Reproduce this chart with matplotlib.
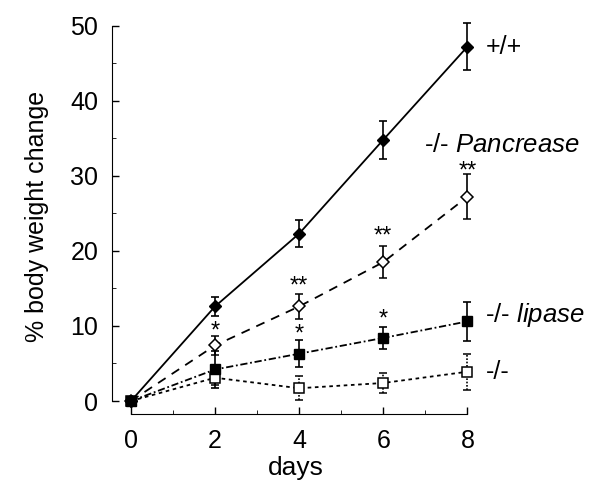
import matplotlib.pyplot as plt
from matplotlib.ticker import MultipleLocator

plt.rcParams['font.family'] = ['Liberation Sans', 'DejaVu Sans']
plt.rcParams['mathtext.fontset'] = 'custom'
plt.rcParams['mathtext.rm'] = 'Liberation Sans'
plt.rcParams['mathtext.it'] = 'Liberation Sans:italic'

days = [0, 2, 4, 6, 8]

wt = [0, 12.6, 22.3, 34.8, 47.2]
wt_err = [0, 1.3, 1.8, 2.5, 3.1]

panc = [0, 7.4, 12.6, 18.5, 27.2]
panc_err = [0, 1.3, 1.7, 2.1, 3.0]

lipase = [0, 4.2, 6.3, 8.4, 10.6]
lipase_err = [0, 2.5, 1.8, 1.5, 2.6]

ko = [0, 3.1, 1.7, 2.4, 3.9]
ko_err = [0, 1.0, 1.6, 1.3, 2.4]

# significance marks: (day, y of star centre, text)
stars = [(2, 9.8, "*"), (4, 15.7, "**"), (4, 9.3, "*"),
         (6, 22.4, "**"), (6, 11.3, "*"), (8, 31.1, "**")]


def main():
    fig = plt.figure(figsize=(6, 4.98), dpi=100)
    ax = fig.add_axes([0.1867, 0.1687, 0.8 - 0.1867, 0.9635 - 0.1687])

    ekw = dict(color='black', ecolor='black', elinewidth=1.2, capsize=3, capthick=1.2, lw=1.3)
    ko_bars = ax.errorbar(days, ko, yerr=ko_err, ls=(0, (2, 2)), marker='s', ms=6.5,
                          mfc='white', mec='black', mew=1.1, **ekw)
    ko_bars[2][0].set_linestyle((0, (1, 1)))
    ax.errorbar(days, lipase, yerr=lipase_err, ls=(0, (4, 1.5, 1, 1.5)), marker='s', ms=7,
                mfc='black', mec='black', **ekw)
    ax.errorbar(days, panc, yerr=panc_err, ls=(0, (5, 4)), marker='D', ms=6,
                mfc='white', mec='black', mew=1.1, **ekw)
    ax.errorbar(days, wt, yerr=wt_err, ls='-', marker='D', ms=6,
                mfc='black', mec='black', **ekw)

    # asterisk glyph sits high in the line, so shift the baseline down
    for d, y, s in stars:
        ax.text(d, y - 1.3, s, ha='center', va='baseline', fontsize=17)

    ax.text(8.43, 47.2, "+/+", fontsize=18, va='center')
    ax.text(6.96, 34.1, r"-/- $\it{Pancrease}$", fontsize=18.5, va='center')
    ax.text(8.43, 11.5, r"-/- $\it{lipase}$", fontsize=18.5, va='center')
    ax.text(8.43, 3.8, "-/-", fontsize=18, va='center')

    ax.set_xlim(-0.45, 8.3)
    ax.set_ylim(-1.73, 51)
    ax.spines['top'].set_visible(False)
    ax.spines['right'].set_visible(False)
    ax.spines['left'].set_bounds(0, 50)
    ax.spines['bottom'].set_bounds(0, 8)
    ax.set_xticks(days)
    ax.xaxis.set_minor_locator(MultipleLocator(1))
    ax.yaxis.set_minor_locator(MultipleLocator(5))
    ax.set_yticks([0, 10, 20, 30, 40, 50])
    ax.tick_params(direction='in', length=5, labelsize=18, width=1)
    ax.tick_params(axis='y', pad=10)
    ax.tick_params(axis='x', pad=11)
    ax.tick_params(which='minor', direction='in', length=3)
    ax.set_xlabel("days", fontsize=19, labelpad=2)
    ax.set_ylabel("% body weight change", fontsize=18, labelpad=15)

    fig.savefig('out.png', dpi=100)


if __name__ == "__main__":
    main()
